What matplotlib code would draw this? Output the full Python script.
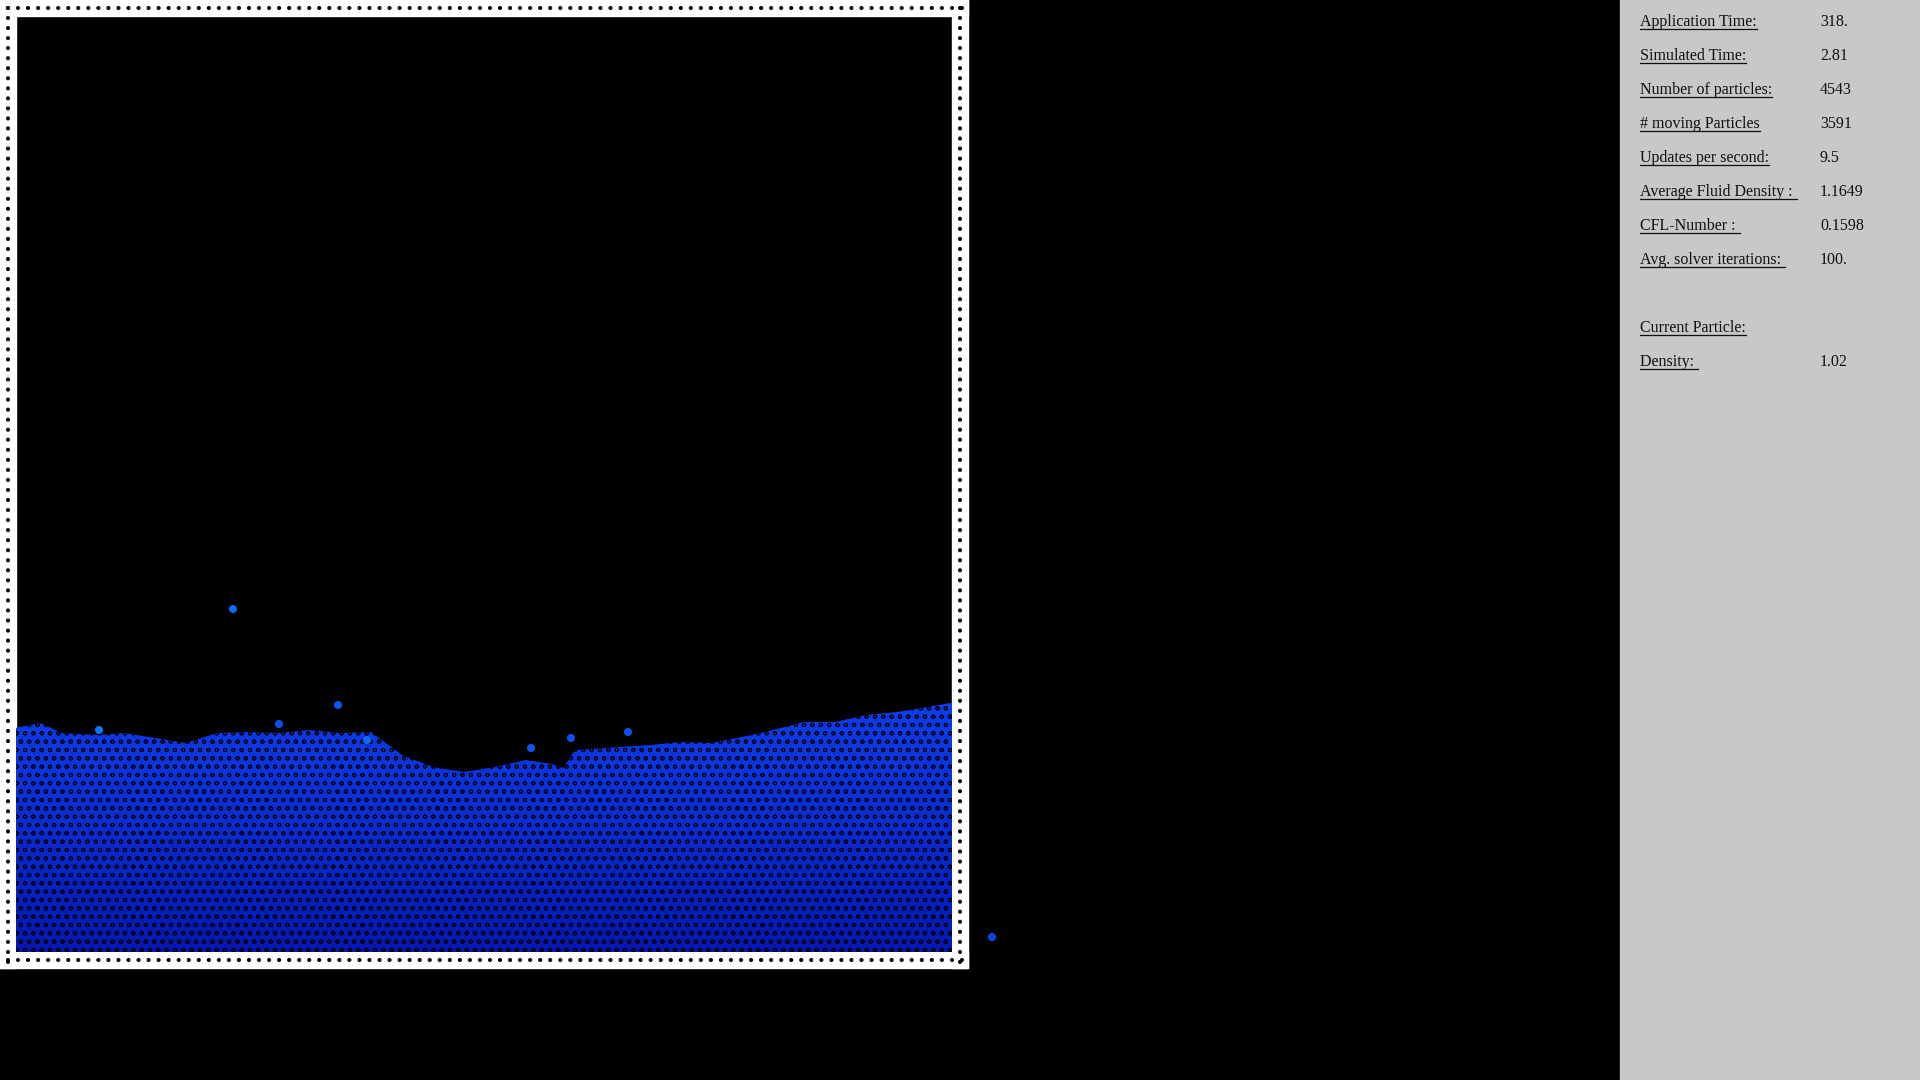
import numpy as np
import matplotlib.pyplot as plt
from matplotlib.colors import LinearSegmentedColormap
from matplotlib.patches import Rectangle

# fluid surface (screen pixels, y grows downward)
surf_x = [16, 19, 40, 62, 99, 124, 155, 186, 217, 247, 278, 309, 340, 371, 402,
          433, 464, 495, 526, 552, 563, 575, 619, 650, 680, 711, 742, 773, 804,
          835, 866, 897, 928, 950, 952]
surf_y = [728, 727, 723, 733, 735, 733, 738, 743, 733, 732, 733, 730, 733, 732, 755,
          767, 772, 767, 760, 764, 768, 750, 747, 745, 742, 743, 737, 730, 722,
          722, 715, 712, 707, 703, 703]
bottom_y = 952

# loose particles above the surface
spray_x = [233, 338, 992, 99, 279, 628, 531, 571, 367]
spray_y = [609, 705, 937, 730, 724, 732, 748, 738, 740]
spray_c = ['#0a6cf5', '#0a55f0', '#0a44e6', '#0a78f8', '#0a50ee', '#0a50ee', '#0a55f0',
           '#0a50ee', '#0a6cf5']

# info panel
labels = ["Application Time:", "Simulated Time:", "Number of particles:",
          "# moving Particles", "Updates per second:", "Average Fluid Density : ",
          "CFL-Number : ", "Avg. solver iterations: ", "", "Current Particle:",
          "Density: "]
values = ["318.", "2.81", "4543", "3591", "9.5", "1.1649", "0.1598", "100.", "", "", "1.02"]

plt.rcParams['hatch.linewidth'] = 0.7
fig = plt.figure(figsize=(19.2, 10.8), dpi=100, facecolor='black')
ax = fig.add_axes([0, 0, 1, 1])
ax.set_xlim(0, 1920)
ax.set_ylim(1080, 0)
ax.set_facecolor('black')
ax.axis('off')

# container walls
box, wall = 968, 16
for r in [(0, 0, box, wall), (0, box - wall, box, wall),
          (0, 0, wall, box), (box - wall, 0, wall, box)]:
    ax.add_patch(Rectangle(r[:2], r[2], r[3], color='white', zorder=1))
hole = dict(color='black', lw=3.0, solid_capstyle='round', dash_capstyle='round', zorder=2)
sp = 10 * 0.72 / 3.0
ax.plot([0, box], [7.5, 7.5], linestyle=(0.5, (0.01, sp)), **hole)
ax.plot([0, box], [960, 960], linestyle=(0.5, (0.01, sp)), **hole)
ax.plot([8, 8], [0, box], linestyle=(0.5, (0.01, sp)), **hole)
ax.plot([960, 960], [0, box], linestyle=(0.5, (0.01, sp)), **hole)

# fluid body with a vertical colour gradient
poly = ax.fill_between(surf_x, surf_y, bottom_y, color='none', lw=0)
cmap = LinearSegmentedColormap.from_list('fluid', ['#0c3eea', '#0a2cd2', '#0418b0'])
grad = np.linspace(0, 1, 256).reshape(-1, 1)
im = ax.imshow(grad, cmap=cmap, aspect='auto', extent=[16, 952, bottom_y, 700], zorder=3)
path = poly.get_paths()[0]
im.set_clip_path(path, ax.transData)
# gaps between particles
ax.fill_between(surf_x, surf_y, bottom_y, facecolor='none', edgecolor='black',
                hatch='oo', lw=0, zorder=3.5)

ax.scatter(spray_x, spray_y, s=34, c=spray_c, lw=0, zorder=4)

# side panel
ax.add_patch(Rectangle((1620, 0), 300, 1080, color='#c8c8c8', zorder=1))
fig.canvas.draw()
ren = fig.canvas.get_renderer()
for i, (lab, val) in enumerate(zip(labels, values)):
    y = 26 + 34 * i
    if lab:
        t = ax.text(1640, y, lab, family='Liberation Serif', fontsize=11.5,
                    va='baseline', color='#101010')
        bb = t.get_window_extent(ren)
        ax.plot([bb.x0, bb.x1], [y + 3, y + 3], color='#101010', lw=0.9)
    if val:
        ax.text(1820, y, val, family='Liberation Serif', fontsize=11.5,
                va='baseline', color='#101010')

fig.savefig('out.png', dpi=100, facecolor='black')
